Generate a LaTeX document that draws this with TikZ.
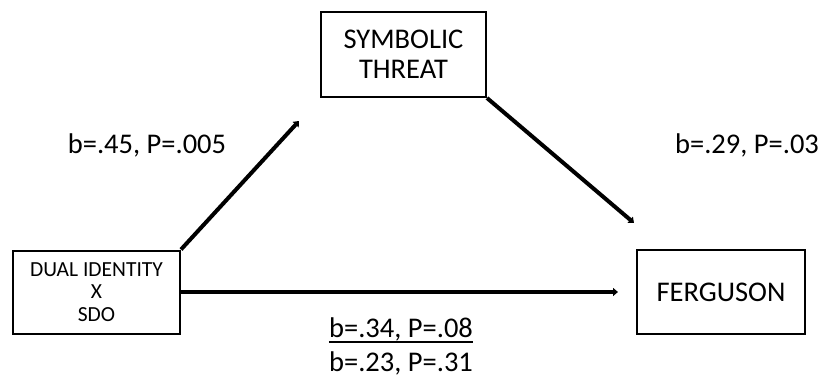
\documentclass[tikz,border=0pt]{standalone}
\usepackage{fontspec}
\setmainfont{Carlito}
\usetikzlibrary{arrows.meta}
\begin{document}
\begin{tikzpicture}[x=1pt,y=-1pt,
  box/.style={draw,line width=2pt,inner sep=0pt,align=center},
  path/.style={line width=4pt,-{Triangle[length=5pt,width=8pt]}},
  coef/.style={anchor=base,inner sep=0pt,font=\fontsize{28.5}{30}\selectfont}]
\useasboundingbox (0,0) rectangle (825,380);
% variables
\node[box,minimum width=167pt,minimum height=83pt,font=\fontsize{21.5}{22.5}\selectfont]
  (dual) at (96.5,292) {DUAL IDENTITY\\X\\SDO};
\node[box,minimum width=165pt,minimum height=85pt,font=\fontsize{28.5}{29.5}\selectfont]
  (sym) at (403.5,54.5) {SYMBOLIC\\THREAT};
\node[box,minimum width=168pt,minimum height=84pt,font=\fontsize{28.5}{29.5}\selectfont]
  (fer) at (721,292) {FERGUSON};
% arrow ends
\coordinate (a1) at (299,121);
\coordinate (a2) at (634,223);
\coordinate (a3) at (618,292);
\draw[path] (dual.north east) -- (a1);
\draw[path] (sym.south east) -- (a2);
\draw[path] (dual.east) -- (a3);
% coefficients
\node[coef] (c1) at (147,153) {b=.45, P=.005};
\node[coef] (c2) at (747,153) {b=.29, P=.03};
\node[coef] (c3) at (401,337) {b=.34, P=.08};
\draw[line width=2pt] (c3.base west) ++(0,5) -- ([yshift=-5pt]c3.base east);
\node[coef] (c4) at (401,371) {b=.23, P=.31};
\end{tikzpicture}
\end{document}
